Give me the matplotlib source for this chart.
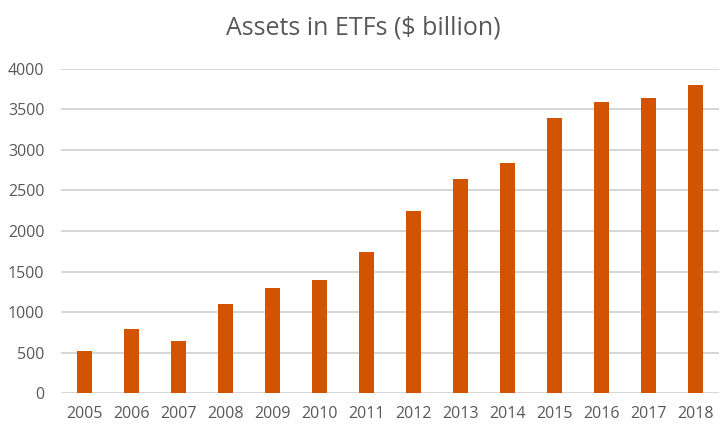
import matplotlib
matplotlib.use("Agg")
import matplotlib.pyplot as plt

# data
years = ['2005', '2006', '2007', '2008', '2009', '2010', '2011',
         '2012', '2013', '2014', '2015', '2016', '2017', '2018']
assets = [520, 790, 640, 1100, 1300, 1400, 1740,
          2250, 2640, 2840, 3400, 3590, 3640, 3800]
y_ticks = [0, 500, 1000, 1500, 2000, 2500, 3000, 3500, 4000]

bar_color = '#D35400'
text_color = '#595959'
grid_color = '#D0D0D0'

plt.rcParams['font.family'] = ['Open Sans', 'DejaVu Sans']

fig = plt.figure(figsize=(7.26, 4.38), dpi=100)
ax = fig.add_axes([0.084, 0.1027, 0.906, 0.7398])

x = range(len(years))
ax.bar(x, assets, width=0.32, color=bar_color, zorder=3)

ax.set_xlim(-0.5, len(years) - 0.5)
ax.set_ylim(0, 4000)
ax.set_yticks(y_ticks)
ax.set_xticks(list(x))
ax.set_xticklabels(years)

ax.grid(axis='y', color=grid_color, linewidth=1.2, zorder=0)
for side in ['top', 'right', 'left', 'bottom']:
    ax.spines[side].set_visible(False)
ax.tick_params(axis='both', length=0, labelsize=11.5, colors=text_color)
ax.tick_params(axis='y', pad=12)
ax.tick_params(axis='x', pad=9)

fig.text(0.5, 0.937, 'Assets in ETFs ($ billion)', ha='center', va='center',
         fontsize=18, color=text_color)

fig.savefig('out.png', dpi=100)
